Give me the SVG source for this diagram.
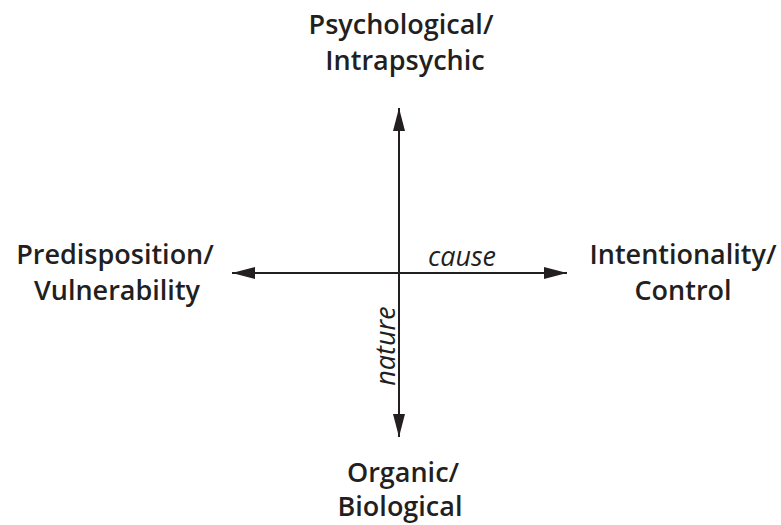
<svg xmlns="http://www.w3.org/2000/svg" width="781" height="525" viewBox="0 0 781 525">
  <style>
    .lbl { font-family: "Open Sans", "Liberation Sans", sans-serif; font-weight: 600; font-size: 27px; fill: #231f20; text-anchor: middle; }
    .axis-lbl { font-family: "Open Sans", "Liberation Sans", sans-serif; font-style: italic; font-size: 27px; fill: #231f20; text-anchor: middle; }
    .axis { stroke: #231f20; stroke-width: 2; fill: none; }
  </style>
  <defs>
    <marker id="head" viewBox="0 0 23 12" refX="23" refY="6" markerWidth="23" markerHeight="12" markerUnits="userSpaceOnUse" orient="auto">
      <path d="M0,0 L23,6 L0,12 Z" fill="#231f20"/>
    </marker>
  </defs>
  <rect width="781" height="525" fill="#ffffff"/>

  <g id="connectors">
    <line class="axis" x1="399" y1="273" x2="399" y2="108" marker-end="url(#head)"/>
    <line class="axis" x1="399" y1="273" x2="399" y2="437" marker-end="url(#head)"/>
    <line class="axis" x1="399" y1="273" x2="232" y2="273" marker-end="url(#head)"/>
    <line class="axis" x1="399" y1="273" x2="567" y2="273" marker-end="url(#head)"/>
    <text class="axis-lbl" x="462" y="266">cause</text>
    <text class="axis-lbl" transform="translate(395,346) rotate(-90)">nature</text>
  </g>

  <g id="node-top">
    <text class="lbl" x="401" y="34">Psychological/</text>
    <text class="lbl" x="405" y="70">Intrapsychic</text>
  </g>
  <g id="node-left">
    <text class="lbl" x="115" y="264">Predisposition/</text>
    <text class="lbl" x="117" y="300">Vulnerability</text>
  </g>
  <g id="node-right">
    <text class="lbl" x="683" y="264">Intentionality/</text>
    <text class="lbl" x="683" y="300">Control</text>
  </g>
  <g id="node-bottom">
    <text class="lbl" x="403" y="482">Organic/</text>
    <text class="lbl" x="400" y="516">Biological</text>
  </g>
</svg>
